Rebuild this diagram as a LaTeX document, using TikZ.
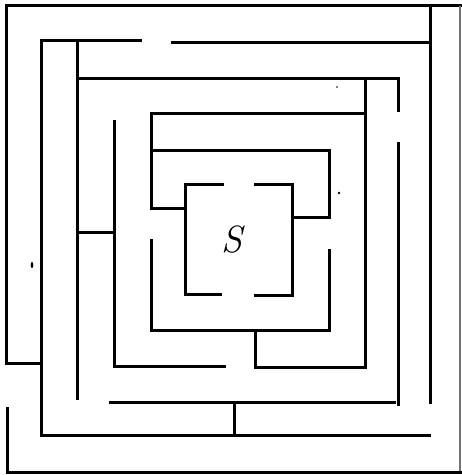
\documentclass[tikz,border=0pt]{standalone}
\begin{document}
\begin{tikzpicture}[x=1pt,y=-1pt,
  wall/.style={line width=3pt,line cap=rect,line join=miter,black},
  faintwall/.style={line width=1.6pt,black!55},
  speck/.style={fill=black}]
\useasboundingbox (0,0) rectangle (462,475);
% outer frame
\draw[wall] (6,363) -- (41,363);
\draw[wall] (6,363) -- (6,5) -- (430,5) -- (460,5);
\draw[faintwall] (460,6) -- (460,473);
\draw[wall] (7,408) -- (7,472) -- (460,472);
\draw[wall] (430,5) -- (430,402);
% ring 2
\draw[wall] (140,40) -- (41,40) -- (41,435) -- (429,435);
\draw[wall] (172,42) -- (430,42);
% ring 3
\draw[wall] (77,40) -- (77,398);
\draw[wall] (77,78) -- (398,78) -- (398,110);
\draw[wall] (255,330) -- (255,367) -- (365,367) -- (365,78);
\draw[wall] (398,143) -- (398,404);
\draw[wall] (110,402) -- (394,402);
\draw[wall] (234,402) -- (234,435);
\draw[wall] (77,232) -- (114,232);
% ring 4
\draw[wall] (114,121) -- (114,366) -- (224,366);
\draw[wall] (364,113) -- (151,113) -- (151,208) -- (185,208);
\draw[wall] (151,150) -- (329,150) -- (329,217) -- (292,217);
\draw[wall] (151,240) -- (151,330) -- (329,330) -- (329,250);
% centre box
\draw[wall] (222,184) -- (185,184) -- (185,294) -- (220,294);
\draw[wall] (255,184) -- (292,184) -- (292,295) -- (255,295);
\node (s) at (232,240) {\fontsize{38}{38}\selectfont\itshape S};
% specks
\fill[speck] (339,193) circle (1.3);
\fill[speck] (337,87) circle (0.8);
\fill[speck] (32,265) ellipse (1.3 and 3);
\end{tikzpicture}
\end{document}
